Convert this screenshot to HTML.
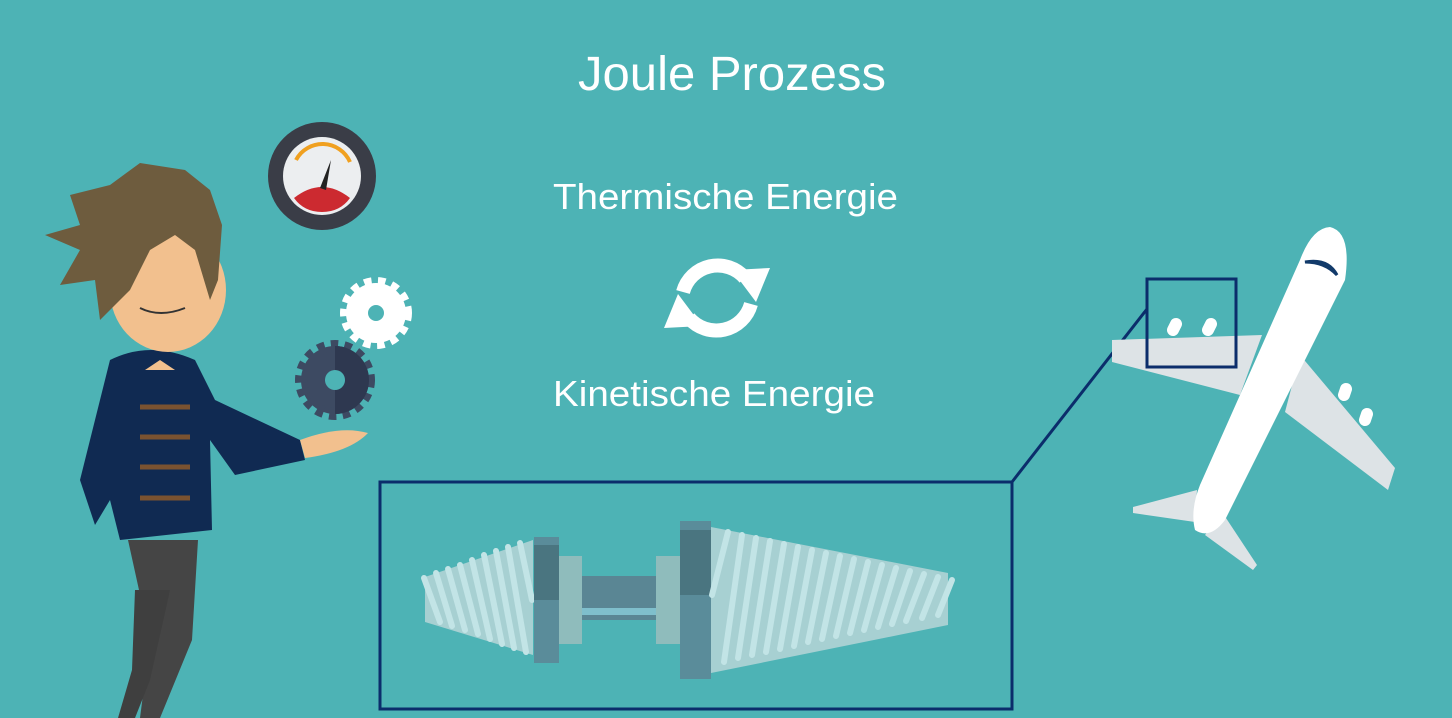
<!DOCTYPE html>
<html><head><meta charset="utf-8"><style>
html,body{margin:0;padding:0;background:#4db3b5;}
svg{display:block}
text{font-family:"Liberation Sans",sans-serif;fill:#fff}
</style></head><body>
<svg width="1452" height="718" viewBox="0 0 1452 718">
<rect width="1452" height="718" fill="#4db3b5"/>
<text x="578" y="90" font-size="48" textLength="308" lengthAdjust="spacingAndGlyphs">Joule Prozess</text>
<text x="553" y="209" font-size="36" textLength="345" lengthAdjust="spacingAndGlyphs">Thermische Energie</text>
<text x="553" y="406" font-size="36" textLength="322" lengthAdjust="spacingAndGlyphs">Kinetische Energie</text>
<g fill="none" stroke="#fff" stroke-width="14">
<path d="M683 292 A36 36 0 0 1 745 278"/>
<path d="M751 304 A36 36 0 0 1 689 318"/>
<polygon points="732,270 770,268 756,302" fill="#fff" stroke="none"/>
<polygon points="702,326 664,328 678,294" fill="#fff" stroke="none"/>
</g>
<g>
<circle cx="322" cy="176" r="54" fill="#3a3d47"/>
<circle cx="322" cy="176" r="39" fill="#eceef0"/>
<path d="M296 160 A30 30 0 0 1 350 162" fill="none" stroke="#f0a020" stroke-width="4"/>
<path d="M294 198 Q322 176 350 198 Q340 212 322 212 Q304 212 294 198Z" fill="#cc2a30"/>
<polygon points="331,160 326,190 320,188" fill="#222"/>
</g>
<g>
<circle cx="376" cy="313" r="30" fill="#fff" stroke="#fff" stroke-width="12" stroke-dasharray="7 6"/>
<circle cx="376" cy="313" r="29" fill="#fff"/>
<circle cx="376" cy="313" r="8" fill="#4db3b5"/>
</g>
<g>
<circle cx="335" cy="380" r="34" fill="#3d4a62" stroke="#3d4a62" stroke-width="12" stroke-dasharray="7 6"/>
<path d="M335 346 A34 34 0 0 1 335 414Z" fill="#2e3850"/>
<circle cx="335" cy="380" r="10" fill="#4db3b5"/>
</g>
<g>
<path d="M128 540 L198 540 L192 640 L160 718 L140 718 L150 640Z" fill="#454545"/>
<path d="M135 590 L170 590 L150 680 L135 718 L118 718 L132 670Z" fill="#3f3f3f"/>
<path d="M110 360 Q150 340 195 360 L215 400 L300 440 L305 460 L235 475 L210 440 L212 530 L120 540 L110 500 L95 525 L80 480Z" fill="#102a52"/>
<path d="M300 440 Q340 425 368 433 Q350 452 305 458Z" fill="#f2c08e"/>
<g stroke="#7a5230" stroke-width="5"><line x1="140" y1="407" x2="190" y2="407"/><line x1="140" y1="437" x2="190" y2="437"/><line x1="140" y1="467" x2="190" y2="467"/><line x1="140" y1="498" x2="190" y2="498"/></g>
<path d="M145 370 L175 370 L160 360Z" fill="#f2c08e"/>
<ellipse cx="168" cy="290" rx="58" ry="62" fill="#f2c08e"/>
<path d="M45 235 L80 225 L70 195 L110 185 L140 163 L185 170 L210 190 L222 225 L218 280 L210 300 L195 250 L175 235 L150 250 L130 290 L100 320 L95 280 L60 285 L80 250Z" fill="#6e5c3e"/>
<path d="M140 308 Q160 318 185 308" fill="none" stroke="#333" stroke-width="2"/>
</g>
<g>
<line x1="1012" y1="482" x2="1147" y2="309" stroke="#0b2d6b" stroke-width="3"/>
<rect x="380" y="482" width="632" height="227" fill="none" stroke="#0b2d6b" stroke-width="3"/>
<polygon points="425,577 533,540 533,655 425,622" fill="#a7d0d2"/>
<g stroke="#c2e4e6" stroke-width="6" stroke-linecap="round">
<line x1="424" y1="578" x2="440" y2="622"/><line x1="436" y1="573" x2="452" y2="626"/><line x1="448" y1="569" x2="465" y2="630"/><line x1="460" y1="565" x2="478" y2="634"/><line x1="472" y1="560" x2="490" y2="639"/><line x1="484" y1="555" x2="502" y2="644"/><line x1="496" y1="551" x2="514" y2="648"/><line x1="508" y1="547" x2="526" y2="652"/><line x1="520" y1="543" x2="532" y2="600"/></g>
<rect x="534" y="537" width="25" height="126" fill="#5a8c9a"/><rect x="534" y="545" width="25" height="55" fill="#4a7580"/>
<rect x="559" y="556" width="23" height="88" fill="#8fbcbc"/>
<rect x="582" y="576" width="74" height="44" fill="#5a8694"/><rect x="582" y="608" width="74" height="7" fill="#7fbfcc"/>
<rect x="656" y="556" width="24" height="88" fill="#8fbcbc"/>
<rect x="680" y="521" width="31" height="158" fill="#5a8c9a"/><rect x="680" y="530" width="31" height="65" fill="#4a7580"/>
<polygon points="711,527 948,573 948,625 711,673" fill="#a7d0d2"/>
<g stroke="#c2e4e6" stroke-width="6" stroke-linecap="round">
<line x1="728" y1="532" x2="712" y2="595"/><line x1="742" y1="535" x2="724" y2="662"/><line x1="756" y1="538" x2="738" y2="658"/><line x1="770" y1="541" x2="752" y2="655"/><line x1="784" y1="544" x2="766" y2="652"/><line x1="798" y1="547" x2="780" y2="649"/><line x1="812" y1="550" x2="794" y2="646"/><line x1="826" y1="553" x2="808" y2="642"/><line x1="840" y1="556" x2="822" y2="639"/><line x1="854" y1="559" x2="836" y2="636"/><line x1="868" y1="562" x2="850" y2="633"/><line x1="882" y1="565" x2="864" y2="630"/><line x1="896" y1="568" x2="878" y2="627"/><line x1="910" y1="571" x2="892" y2="624"/><line x1="924" y1="574" x2="906" y2="621"/><line x1="938" y1="577" x2="922" y2="618"/><line x1="952" y1="580" x2="938" y2="615"/></g>
</g>
<g>
<polygon points="1262,335 1112,340 1112,362 1240,395" fill="#dde3e6"/>
<polygon points="1300,355 1395,468 1388,490 1285,412" fill="#dde3e6"/>
<polygon points="1197,490 1133,507 1133,513 1195,522" fill="#dde3e6"/>
<polygon points="1222,512 1257,565 1253,570 1205,535" fill="#dde3e6"/>
<g stroke="#fff" stroke-width="12" stroke-linecap="round"><line x1="1173" y1="330" x2="1176" y2="324"/><line x1="1208" y1="330" x2="1211" y2="324"/><line x1="1344" y1="395" x2="1346" y2="389"/><line x1="1365" y1="420" x2="1367" y2="414"/></g>
<path d="M1330 227 Q1352 232 1345 280 L1225 520 Q1210 540 1195 530 Q1190 510 1200 485 L1300 260 Q1312 228 1330 227Z" fill="#fff"/>
<path d="M1305 262 Q1328 258 1337 275 Q1325 262 1305 262Z" fill="#123a6a" stroke="#123a6a" stroke-width="3"/>
<rect x="1147" y="279" width="89" height="88" fill="none" stroke="#0b2d6b" stroke-width="3"/>
</g>
</svg>
</body></html>
